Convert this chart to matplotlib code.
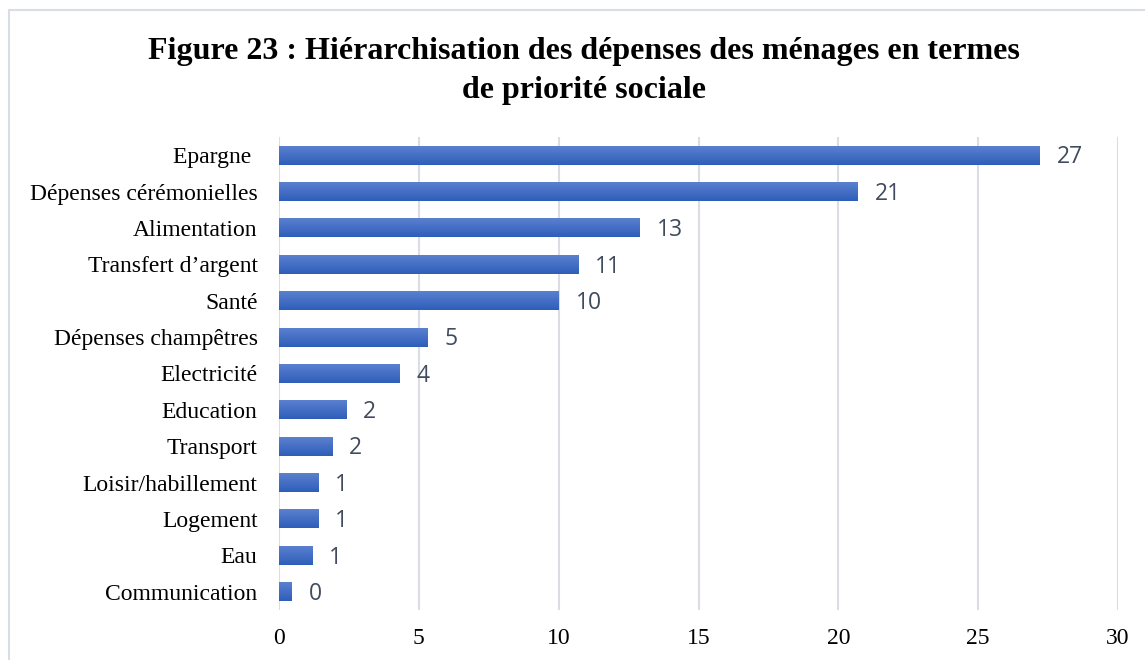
import matplotlib.pyplot as plt
import numpy as np
from matplotlib.patches import Rectangle
from matplotlib.colors import LinearSegmentedColormap

categories = ["Epargne ", "Dépenses cérémonielles", "Alimentation", "Transfert d’argent",
              "Santé", "Dépenses champêtres", "Electricité", "Education", "Transport",
              "Loisir/habillement", "Logement", "Eau", "Communication"]
values = [27.2, 20.7, 12.9, 10.7, 10.0, 5.3, 4.3, 2.4, 1.9, 1.4, 1.4, 1.2, 0.45]
xticks = [0, 5, 10, 15, 20, 25, 30]

fig = plt.figure(figsize=(11.45, 6.6), dpi=100)
ax = fig.add_axes([0.2437, 0.0758, 0.7327, 0.7166])

# outer frame like the word chart box
fig.patches.append(Rectangle((9 / 1145, -0.01), 1.0, 1 - 10 / 660 + 0.01, transform=fig.transFigure,
                             fill=False, edgecolor="#d9dde6", linewidth=1.5))

grad = LinearSegmentedColormap.from_list("bar", ["#5b80d0", "#2e5eb9"])
g = np.linspace(0, 1, 64).reshape(-1, 1)
bar_h = 0.52
n = len(categories)
for i, v in enumerate(values):
    y = i
    ax.barh(y, v, height=bar_h, color="none", zorder=3)
    ax.imshow(g, cmap=grad, aspect="auto", zorder=3,
              extent=[0, v, y + bar_h / 2, y - bar_h / 2])
    ax.text(v + 0.6, y + 0.06, f"{v:.0f}", va="center", ha="left", fontsize=16.5,
            color="#404b5e", family="Open Sans")

ax.set_xlim(0, 30)
ax.set_ylim(n - 0.5, -0.5)
ax.set_yticks(range(n))
ax.set_yticklabels(categories, fontsize=17, family="Liberation Serif")
ax.set_xticks(xticks)
ax.set_xticklabels([str(t) for t in xticks], fontsize=17, family="Liberation Serif")
ax.tick_params(length=0, pad=13, axis="x")
ax.tick_params(length=0, pad=15.5, axis="y")
ax.grid(axis="x", color="#dadde3", linewidth=1.5, zorder=0)
for s in ax.spines.values():
    s.set_visible(False)
ax.set_aspect("auto")

fig.text(584 / 1145, 1 - 71 / 660,
         "Figure 23 : Hiérarchisation des dépenses des ménages en termes\nde priorité sociale",
         ha="center", va="center", fontsize=23, fontweight="bold", family="Liberation Serif",
         linespacing=1.45)

fig.savefig("out.png", dpi=100)
